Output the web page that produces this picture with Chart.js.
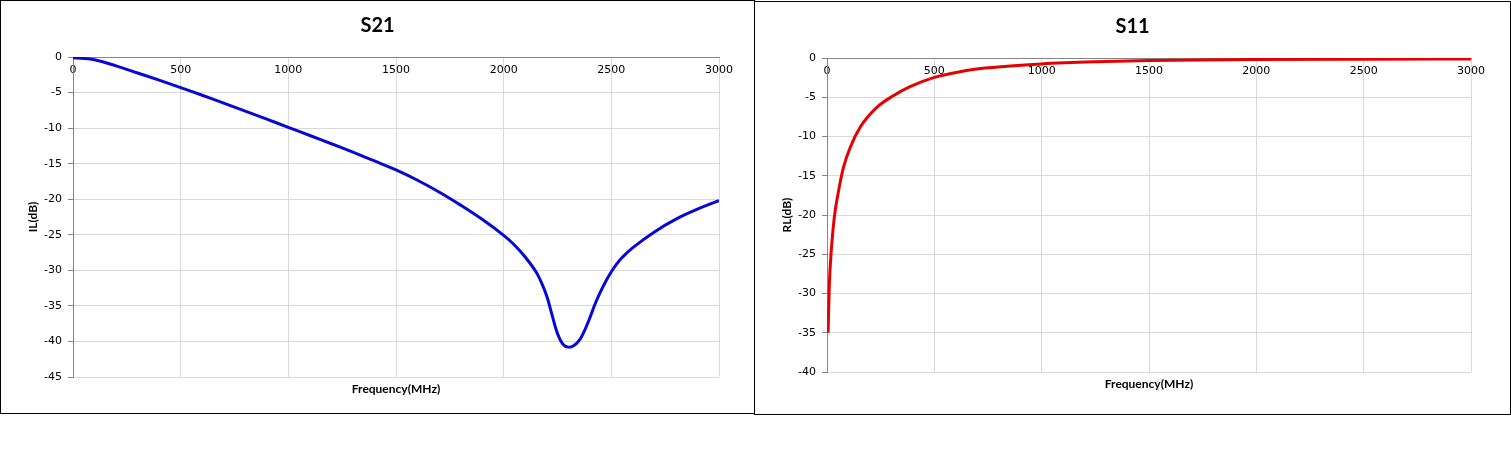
<!DOCTYPE html>
<html>
<head>
<meta charset="utf-8">
<title>S21 / S11</title>
<script src="https://cdn.jsdelivr.net/npm/chart.js@4/dist/chart.umd.min.js"></script>
<style>
    body { margin: 0; background: #fff; }
    .box { position: absolute; border: 1px solid #000; background: #fff; }
    #box-s21 { left: 0; top: 0; width: 753px; height: 412px; }
    #box-s11 { left: 754px; top: 1px; width: 755px; height: 412px; }
    canvas { display: block; }
</style>
</head>
<body>
<div class="box" id="box-s21"><canvas id="s21-chart" width="753" height="412"></canvas></div>
<div class="box" id="box-s11"><canvas id="s11-chart" width="755" height="412"></canvas></div>

<script>
// --- DATA ---
const FREQ_MIN = 0;
const FREQ_MAX = 3000;
const FREQ_STEP = 500;
const DB_STEP = 5;

// S21 insertion loss
const s21Freq = [0, 100, 200, 300, 400, 500, 600, 700, 800, 900, 1000, 1100, 1200, 1300, 1400, 1500,
    1600, 1700, 1800, 1900, 2000, 2050, 2100, 2150, 2175, 2200, 2225, 2250, 2275, 2300, 2325, 2350,
    2375, 2400, 2425, 2450, 2475, 2500, 2525, 2550, 2600, 2700, 2800, 2900, 3000];
const s21Loss = [-0.1, -0.4, -1.25, -2.25, -3.25, -4.3, -5.38, -6.48, -7.6, -8.74, -9.9, -11.04, -12.2, -13.39, -14.61, -15.88,
    -17.33, -18.98, -20.83, -22.83, -25.08, -26.43, -28.13, -30.2, -31.7, -33.6, -36.3, -38.9, -40.4, -40.8, -40.6, -39.9,
    -38.5, -36.7, -34.7, -33.0, -31.5, -30.2, -29.1, -28.2, -26.8, -24.6, -22.8, -21.4, -20.2];

// S11 return loss
const s11Freq = [5, 11, 19, 34, 54, 77, 108, 155, 232, 309, 387, 500, 620, 750, 1000, 1250, 1500, 2000, 2500, 3000];
const s11Loss = [-35, -28.8, -24.9, -20.3, -16.9, -13.9, -11.4, -8.8, -6.3, -4.8, -3.65, -2.47, -1.74, -1.25,
    -0.75, -0.48, -0.33, -0.2, -0.15, -0.12];

// --- STYLE ---
const AXIS_COLOR = '#868686';
const GRID_COLOR = '#d9d9d9';
const TITLE_FONT = { family: 'Lato', size: 20, weight: 'bold' };
const LABEL_FONT = { family: 'Lato', size: 12, weight: 'bold' };
const TICK_FONT = { family: 'DejaVu Sans', size: 11 };

// --- FUNCTIONS ---
function toPoints(xs, ys) {
    return xs.map((x, i) => ({ x: x, y: ys[i] }));
}

function buildChart(canvas, cfg) {
    return new Chart(canvas, {
        type: 'line',
        data: {
            datasets: [{
                data: cfg.points,
                borderColor: cfg.color,
                borderWidth: 3,
                pointRadius: 0,
                fill: false,
                tension: 0.4,
                cubicInterpolationMode: cfg.curveMode
            }]
        },
        options: {
            responsive: false,
            animation: false,
            layout: { padding: 0 },
            plugins: {
                legend: { display: false },
                tooltip: { enabled: false },
                title: {
                    display: true,
                    text: cfg.title,
                    color: '#000',
                    font: TITLE_FONT,
                    padding: { top: 13, bottom: 19 }
                }
            },
            scales: {
                // frequency ticks sit on the 0 dB line, like the Excel original
                x: {
                    type: 'linear',
                    position: { y: 0 },
                    min: FREQ_MIN,
                    max: FREQ_MAX,
                    ticks: {
                        stepSize: FREQ_STEP,
                        color: '#000',
                        font: TICK_FONT,
                        padding: 7,
                        maxRotation: 0,
                        callback: v => String(v)
                    },
                    grid: { color: GRID_COLOR, drawTicks: false },
                    border: { color: AXIS_COLOR }
                },
                // empty bottom axis that only carries the title
                xTitle: {
                    axis: 'x',
                    type: 'linear',
                    position: 'bottom',
                    min: FREQ_MIN,
                    max: FREQ_MAX,
                    grid: { display: false },
                    border: { display: false },
                    ticks: { display: false },
                    title: {
                        display: true,
                        text: 'Frequency(MHz)',
                        color: '#000',
                        font: LABEL_FONT,
                        padding: { top: 0, bottom: cfg.xTitlePad }
                    },
                    afterFit: scale => { scale.height = cfg.bottomHeight; }
                },
                y: {
                    type: 'linear',
                    position: 'left',
                    min: cfg.yMin,
                    max: 0,
                    ticks: {
                        stepSize: DB_STEP,
                        color: '#000',
                        font: TICK_FONT,
                        padding: 6,
                        callback: v => String(v)
                    },
                    grid: { color: GRID_COLOR, tickColor: AXIS_COLOR, tickLength: 5 },
                    border: { color: AXIS_COLOR },
                    title: {
                        display: true,
                        text: cfg.yTitle,
                        color: '#000',
                        font: LABEL_FONT,
                        padding: { top: 25, bottom: 0 }
                    },
                    afterFit: scale => { scale.width = 72; }
                },
                // blank strip on the right so the chart title stays centred in the box
                yRight: {
                    axis: 'y',
                    type: 'linear',
                    position: 'right',
                    grid: { display: false },
                    border: { display: false },
                    ticks: { display: false },
                    afterFit: scale => { scale.width = cfg.padRight; }
                }
            }
        }
    });
}

// --- START ---
buildChart(document.getElementById('s21-chart'), {
    title: 'S21',
    yTitle: 'IL(dB)',
    yMin: -45,
    color: 'rgb(8, 8, 214)',
    curveMode: 'default',
    points: toPoints(s21Freq, s21Loss),
    padRight: 35,
    bottomHeight: 36,
    xTitlePad: 17
});

buildChart(document.getElementById('s11-chart'), {
    title: 'S11',
    yTitle: 'RL(dB)',
    yMin: -40,
    color: 'rgb(230, 0, 0)',
    curveMode: 'monotone',
    points: toPoints(s11Freq, s11Loss),
    padRight: 39,
    bottomHeight: 42,
    xTitlePad: 23
});
</script>
</body>
</html>
